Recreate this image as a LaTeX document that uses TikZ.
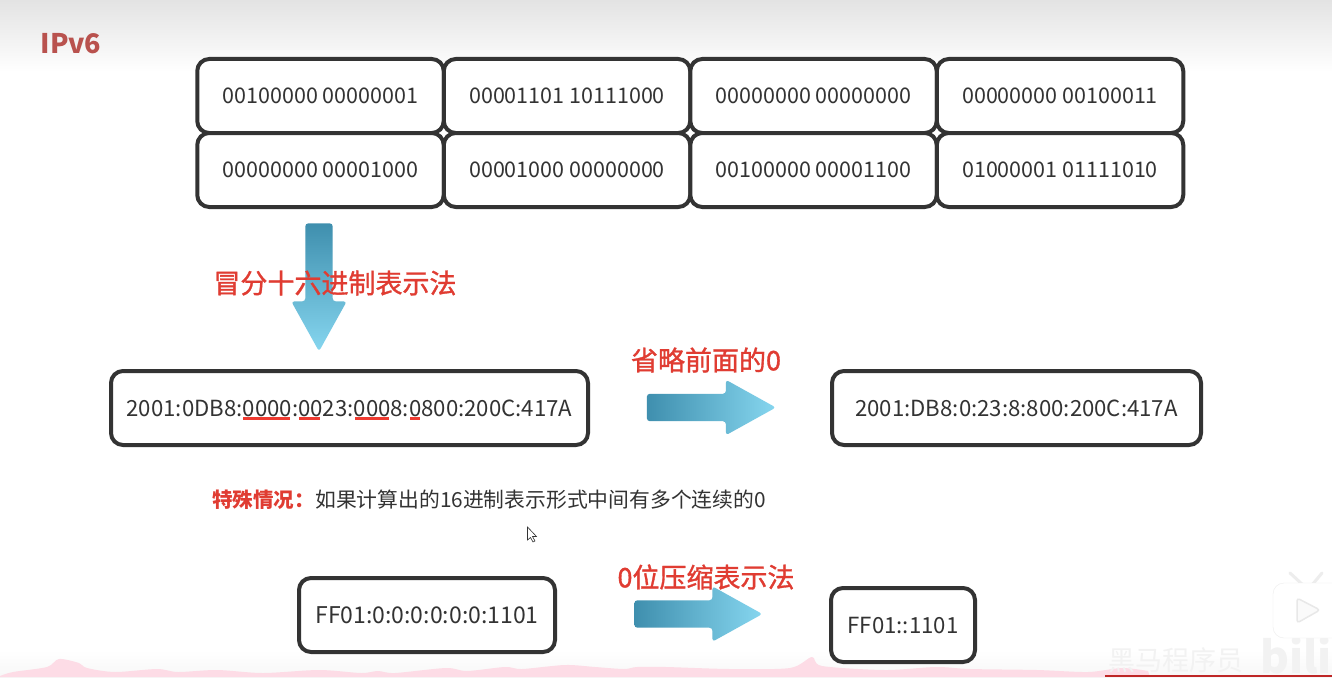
\documentclass[tikz,border=0pt]{standalone}
\usepackage{fontspec}
\setmainfont{Noto Sans CJK SC}
\newfontfamily\labelfont[FakeBold=1.2]{Noto Sans CJK SC}
\usetikzlibrary{shapes.arrows}
\definecolor{boxline}{HTML}{333333}
\definecolor{labelred}{HTML}{E03C32}
\definecolor{linered}{HTML}{EE3A30}
\definecolor{titlered}{HTML}{B9524E}
\definecolor{arrowdark}{HTML}{3F8FAE}
\definecolor{arrowlight}{HTML}{86D6EF}
\definecolor{wavepink}{HTML}{FDDCE6}
\tikzset{
	boxnode/.style={draw=boxline,line width=4pt,rounded corners=12pt,fill=white,inner sep=0pt,text=boxline,font=\fontsize{22.2}{26}\selectfont},
	binnode/.style={boxnode,minimum width=246.5pt,minimum height=74pt,font=\fontsize{21.5}{26}\selectfont},
	redlabel/.style={text=labelred,inner sep=0pt,font=\fontsize{27}{31}\selectfont\labelfont},
	blockarrow/.style={single arrow,single arrow head extend=14pt,single arrow tip angle=58,minimum width=55pt,inner sep=0pt,rounded corners=3pt,text width=27pt,text height=27pt,text depth=0pt}
}
\begin{document}
\begin{tikzpicture}[x=1pt,y=-1pt]
	\useasboundingbox (0,0) rectangle (1332,677);
	\fill[white] (0,0) rectangle (1332,677);
	\shade[top color=black!11,bottom color=white] (0,0) rectangle (1332,72);
	\shade[top color=white,bottom color=black!3] (0,650) rectangle (1332,677);
	\fill[wavepink] plot[smooth] coordinates {(0,676) (13,672) (47,667) (59,659) (79,663) (87,668) (115,672) (157,669) (178,672) (217,670) (263,673) (319,670) (361,673) (378,671) (395,673) (446,668) (467,671) (505,667) (522,669) (565,665) (595,667) (624,669) (637,667) (666,667) (730,669) (790,668) (812,657) (822,666) (885,670) (936,667) (970,669) (1037,670) (1088,672) (1122,668) (1148,671)} -- (1150,677) -- (0,677) -- cycle;
	\fill[red!70!black!85] (1105,675) rectangle (1332,677);
	\node (title) at (71,44) [text=titlered,inner sep=0pt,font=\fontsize{27}{32}\selectfont\bfseries] {IPv6};
	% binary groups
	\foreach \n/\x/\t in {1/320.5/00100000 00000001,2/567/00001101 10111000,3/813.5/00000000 00000000,4/1060/00000000 00100011}
	\node (top\n) at (\x,96) [binnode] {\t};
	\foreach \n/\x/\t in {1/320.5/00000000 00001000,2/567/00001000 00000000,3/813.5/00100000 00001100,4/1060/01000001 01111010}
	\node (bot\n) at (\x,170) [binnode] {\t};
	% arrows
	\node (arrowhex) at (319,275) [blockarrow,minimum height=128pt,shape border rotate=270,top color=arrowdark,bottom color=arrowlight] {};
	\node (arrowomit) at (699,407.5) [blockarrow,minimum height=129pt,left color=arrowdark,right color=arrowlight] {};
	\node (arrowzip) at (686,614) [blockarrow,minimum height=128pt,left color=arrowdark,right color=arrowlight] {};
	\node (labelhex) at (335,283) [redlabel] {冒分十六进制表示法};
	\node (labelomit) at (706,360) [redlabel] {省略前面的0};
	\node (labelzip) at (706,577) [redlabel] {0位压缩表示法};
	% hex forms
	\node (hexfull) at (349.5,408) [boxnode,minimum width=477pt,minimum height=74pt] {2001:0DB8:0000:0023:0008:0800:200C:417A};
	\node (hexshort) at (1016.5,408) [boxnode,minimum width=369pt,minimum height=74pt] {2001:DB8:0:23:8:800:200C:417A};
	\foreach \a/\b in {243/290,299/319.5,355/389,410/420}
	\draw[linered,line width=3pt] (\a,418) -- (\b,418);
	\node (special) at (212,500) [anchor=west,inner sep=0pt,text=labelred,font=\fontsize{20.5}{24}\selectfont\bfseries] {特殊情况：};
	\node (specialtext) at (315,500) [anchor=west,inner sep=0pt,text=boxline,font=\fontsize{20.8}{24}\selectfont] {如果计算出的16进制表示形式中间有多个连续的0};
	\draw[boxline,fill=white,line width=.6pt] (527.5,527) -- (527.5,540) -- (530.5,537.5) -- (533,542) -- (535,541) -- (532.5,536.5) -- (536.5,536.5) -- cycle;
	% zero compression
	\node (zerofull) at (427,615) [boxnode,minimum width=256pt,minimum height=74pt,font=\fontsize{23}{26}\selectfont] {FF01:0:0:0:0:0:0:1101};
	\node (zeroshort) at (903,625) [boxnode,minimum width=144pt,minimum height=74pt] {FF01::1101};
	% player marks
	\node (brand) at (1176,660) [inner sep=0pt,text=black!5,font=\fontsize{27}{30}\selectfont] {黑马程序员};
	\node (bili) at (1296,656) [inner sep=0pt,text=black!5,font=\fontsize{44}{48}\selectfont\bfseries] {bili};
	\draw[black!7,line width=3pt,line cap=round] (1290,573) -- (1303,585) (1322,573) -- (1312,585);
	\draw[black!7,fill=white,rounded corners=11pt] (1273,583) rectangle (1345,638);
	\draw[black!9,fill=black!2,line width=1.5pt,rounded corners=3pt] (1297,598) -- (1320,610) -- (1297,623) -- cycle;
\end{tikzpicture}
\end{document}
